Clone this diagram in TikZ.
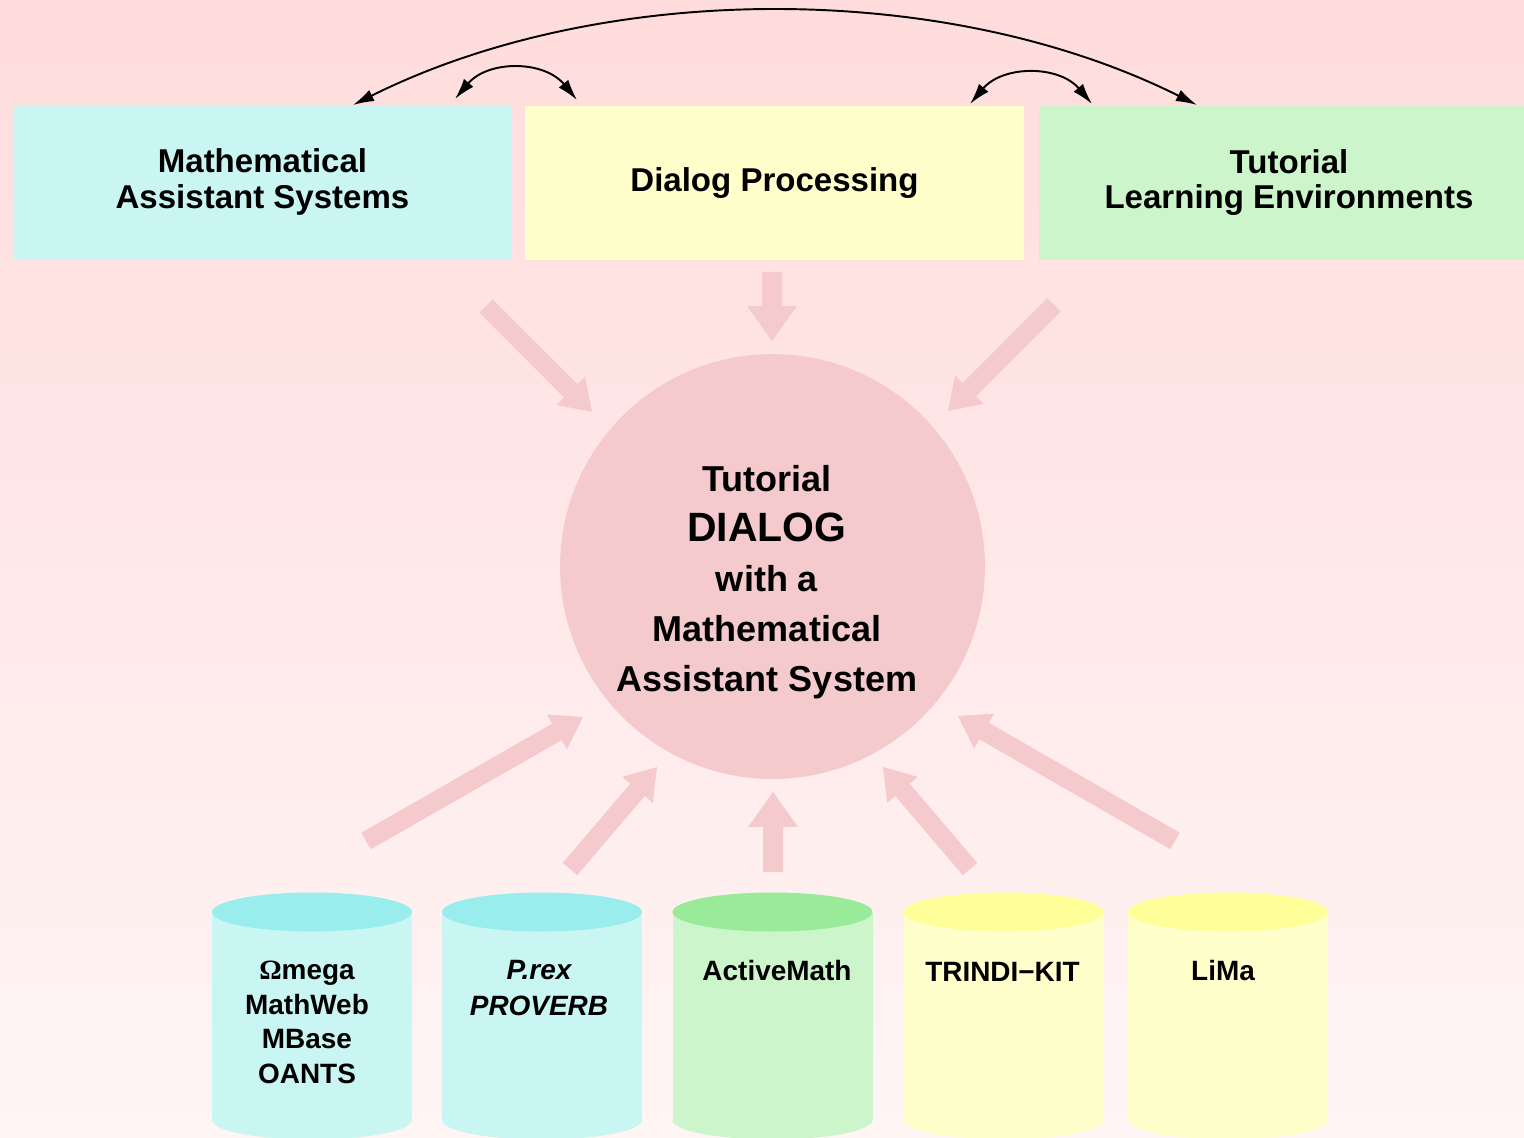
\documentclass[tikz,border=0pt]{standalone}
\usepackage{fontspec}
\setmainfont{Liberation Sans}
\newfontfamily\omfont{Liberation Serif}
\usetikzlibrary{calc,arrows.meta}
\definecolor{bgtop}{HTML}{FFDCDC}
\definecolor{bgbot}{HTML}{FFF5F5}
\definecolor{pinkc}{HTML}{F5CACC}
\definecolor{cyanb}{HTML}{C9F5F3}
\definecolor{cyant}{HTML}{99EDED}
\definecolor{yelb}{HTML}{FFFFCC}
\definecolor{yelt}{HTML}{FFFF99}
\definecolor{grnb}{HTML}{CCF5CC}
\definecolor{grnt}{HTML}{99EB99}
% fat arrow: #1 from, #2 to, #3 half shaft, #4 half head, #5 head length
\newcommand\fatarr[5]{%
  \coordinate (fh) at ($(#2)!#5!(#1)$);
  \fill[pinkc] ($(#1)!#3!90:(#2)$) -- ($(fh)!#3!90:(#2)$) -- ($(fh)!#4!90:(#2)$)
    -- (#2) -- ($(fh)!#4!-90:(#2)$) -- ($(fh)!#3!-90:(#2)$) -- ($(#1)!#3!-90:(#2)$) -- cycle;
}
\newcommand\drawcyl[3]{%
  \fill[#2] (#1-100,912) rectangle (#1+100,1120);
  \fill[#2] (#1,1120) ellipse [x radius=2cm, y radius=0.39cm];
  \fill[#3] (#1,912) ellipse [x radius=2cm, y radius=0.39cm];
}
\tikzset{
  topbox/.style={rectangle, inner sep=0pt, align=center, minimum height=3.08cm,
    font=\fontsize{18.8pt}{19.9pt}\selectfont\bfseries},
  cyltext/.style={anchor=north, inner sep=0pt, align=center,
    font=\fontsize{15.9pt}{19.6pt}\selectfont\bfseries},
  arcarrow/.style={draw=black, line width=1.1pt,
    {Latex[length=12pt,width=7pt]}-{Latex[length=12pt,width=7pt]}},
}
\begin{document}
\begin{tikzpicture}[x=0.02cm, y=-0.02cm]
\useasboundingbox (0,0) rectangle (1524,1138);
\shade[top color=bgtop, bottom color=bgbot] (0,0) rectangle (1524,1138);

% top boxes
\node[topbox, fill=cyanb, minimum width=9.98cm,
  font=\fontsize{18.8pt}{21pt}\selectfont\bfseries] (box1) at (262.5,182) {Mathematical\\Assistant Systems};
\node[topbox, fill=yelb, minimum width=9.98cm] (box2) at (774.5,183) {Dialog Processing};
\node[topbox, fill=grnb, minimum width=10cm] (box3) at (1289,183) {Tutorial\\Learning Environments};

% central circle
\node[circle, fill=pinkc, minimum size=8.5cm, inner sep=0pt] (core) at (772.5,566.5) {};
\node[anchor=north, inner sep=0pt, align=center,
  font=\fontsize{20.5pt}{28.45pt}\selectfont\bfseries] (coretext) at (767,465)
  {Tutorial\\{\fontsize{23.3pt}{28.45pt}\selectfont DIALOG}\\with a\\Mathematical\\Assistant System};

% black arcs between the boxes
\coordinate (a1) at (353,105);
\coordinate (a2) at (1197,105);
\coordinate (b1) at (455,99);
\coordinate (b2) at (577,100);
\coordinate (d1) at (970,104);
\coordinate (d2) at (1092,104);
\draw[arcarrow] (a1) .. controls (603,-20) and (947,-20) .. (a2);
\draw[arcarrow] (b1) .. controls (488,60) and (544,60) .. (b2);
\draw[arcarrow] (d1) .. controls (1003,65) and (1059,65) .. (d2);

% fat arrows from the boxes to the circle
\coordinate (t1a) at (486,306);   \coordinate (t1b) at (592,412);
\coordinate (t2a) at (772,272);   \coordinate (t2b) at (772,341);
\coordinate (t3a) at (1054,305);  \coordinate (t3b) at (948,411);
\fatarr{t1a}{t1b}{5.4pt}{11.4pt}{17.1pt}
\fatarr{t2a}{t2b}{5.69pt}{14.2pt}{19.9pt}
\fatarr{t3a}{t3b}{5.4pt}{11.4pt}{17.1pt}

% fat arrows from the cylinders to the circle
\coordinate (u1a) at (366,841);   \coordinate (u1b) at (583,717);
\coordinate (u2a) at (570,869);   \coordinate (u2b) at (657,767);
\coordinate (u3a) at (773,872);   \coordinate (u3b) at (773,792);
\coordinate (u4a) at (970,869);   \coordinate (u4b) at (883,767);
\coordinate (u5a) at (1175,841);  \coordinate (u5b) at (958,716);
\fatarr{u1a}{u1b}{5.4pt}{11.4pt}{17.1pt}
\fatarr{u2a}{u2b}{5.4pt}{11.4pt}{17.1pt}
\fatarr{u3a}{u3b}{5.69pt}{14.2pt}{19.9pt}
\fatarr{u4a}{u4b}{5.4pt}{11.4pt}{17.1pt}
\fatarr{u5a}{u5b}{5.4pt}{11.4pt}{17.1pt}

% cylinders
\drawcyl{312}{cyanb}{cyant}
\drawcyl{542}{cyanb}{cyant}
\drawcyl{772.5}{grnb}{grnt}
\drawcyl{1003.5}{yelb}{yelt}
\drawcyl{1228}{yelb}{yelt}

\node[cyltext] (c1) at (307,961) {{\omfont\bfseries Ω}mega\\MathWeb\\MBase\\OANTS};
\node[cyltext, font=\fontsize{15.9pt}{20.4pt}\selectfont\bfseries\itshape] (c2) at (539,960) {P.rex\\PROVERB};
\node[cyltext] (c3) at (777,960) {ActiveMath};
\node[cyltext] (c4) at (1002.5,962) {TRINDI−KIT};
\node[cyltext] (c5) at (1223,960) {LiMa};
\end{tikzpicture}
\end{document}
